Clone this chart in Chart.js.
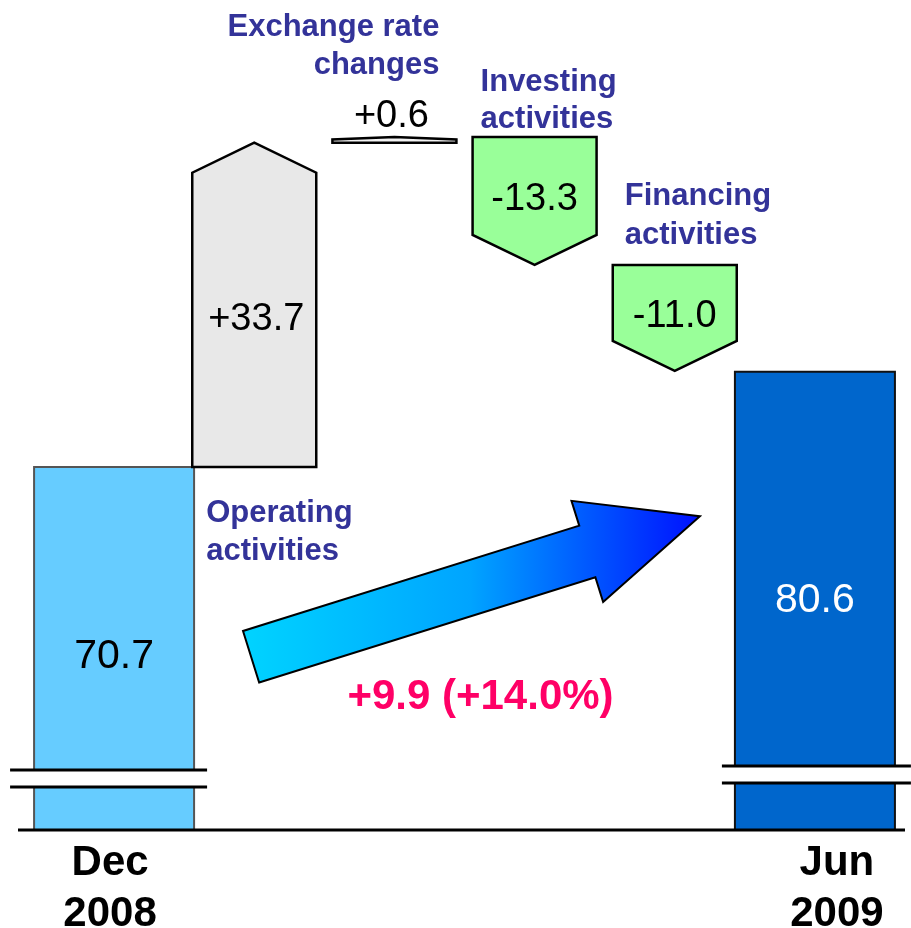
<!DOCTYPE html>
<html>
<head>
<meta charset="utf-8">
<script src="https://cdn.jsdelivr.net/npm/chart.js@4.4.0/dist/chart.umd.min.js"></script>
<style>
body{margin:0;background:#fff}
</style>
</head>
<body>
<canvas id="myChart" width="911" height="928"></canvas>
<script>
// values
var categories=[['Dec','2008'],['Operating','activities'],['Exchange rate','changes'],['Investing','activities'],['Financing','activities'],['Jun','2009']]
var startValue=70.7
var endValue=80.6
var changes=[33.7,0.6,-13.3,-11.0]
var changeLabels=['+33.7','+0.6','-13.3','-11.0']
var totalLabels=['70.7','80.6']
var growthLabel='+9.9 (+14.0%)'

// broken axis: bars start from here
var axisMin=33
var axisMax=118.5

var totals=[[axisMin,startValue],null,null,null,null,[axisMin,endValue]]
var steps=[null]
var running=startValue
changes.forEach(function(c){
    steps.push([running,running+c])
    running+=c
})
steps.push(null)

var FONT='"Liberation Sans", Arial, sans-serif'
var NAVY='#333399'

function poly(ctx,pts,fill,stroke,lw){
    ctx.beginPath()
    ctx.moveTo(pts[0][0],pts[0][1])
    for(var i=1;i<pts.length;i++) ctx.lineTo(pts[i][0],pts[i][1])
    ctx.closePath()
    ctx.fillStyle=fill
    ctx.fill()
    ctx.lineWidth=lw
    ctx.strokeStyle=stroke
    ctx.lineJoin='miter'
    ctx.stroke()
}

var waterfall={
    id:'waterfall',
    afterDatasetsDraw:function(chart){
        var ctx=chart.ctx
        var area=chart.chartArea
        var ys=chart.scales.y
        var tot=chart.getDatasetMeta(0).data
        var stp=chart.getDatasetMeta(1).data
        ctx.save()

        // outline of the total bars
        ;[[0,'#555'],[5,'#111']].forEach(function(o){
            var el=tot[o[0]]
            var l=el.x-el.width/2, r=el.x+el.width/2
            var top=Math.min(el.y,el.base)
            ctx.strokeStyle=o[1]
            ctx.lineWidth=2
            ctx.beginPath()
            ctx.moveTo(l,area.bottom);ctx.lineTo(l,top);ctx.lineTo(r,top);ctx.lineTo(r,area.bottom)
            ctx.stroke()
        })

        // axis break marks on the two total bars
        var breaks=[[0,-60,-43,24,13],[5,-64,-47,13,16]]
        breaks.forEach(function(b){
            var el=tot[b[0]]
            var l=el.x-el.width/2-b[3], r=el.x+el.width/2+b[4]
            var y1=area.bottom+b[1], y2=area.bottom+b[2]
            ctx.fillStyle='#fff'
            ctx.fillRect(l,y1,r-l,y2-y1)
            ctx.strokeStyle='#000'
            ctx.lineWidth=3
            ctx.beginPath()
            ctx.moveTo(l,y1);ctx.lineTo(r,y1)
            ctx.moveTo(l,y2);ctx.lineTo(r,y2)
            ctx.stroke()
        })

        // base line
        ctx.beginPath()
        ctx.moveTo(area.left-26,area.bottom)
        ctx.lineTo(area.right+20,area.bottom)
        ctx.lineWidth=3
        ctx.strokeStyle='#000'
        ctx.stroke()

        // total values
        ctx.textAlign='center'
        ctx.textBaseline='middle'
        ctx.font='41px '+FONT
        ctx.fillStyle='#000'
        ctx.fillText(totalLabels[0],tot[0].x,(tot[0].y+tot[0].base)/2+8)
        ctx.fillStyle='#fff'
        ctx.fillText(totalLabels[1],tot[5].x,(tot[5].y+tot[5].base)/2)

        // category labels under the totals
        ctx.font='bold 42px '+FONT
        ctx.fillStyle='#000'
        var catOff=[-4,22]
        ;[0,5].forEach(function(idx,k){
            categories[idx].forEach(function(line,j){
                ctx.fillText(line,tot[idx].x+catOff[k],area.bottom+33+j*51)
            })
        })

        // step arrows
        var fills=['#e8e8e8','#f2f2f2','#99ff99','#99ff99']
        var lab=[
            {align:'left',dx:'l',ox:14,oy:'bottom',y:[46,84]},
            {align:'right',dx:'r',ox:-17,oy:'top',y:[-109,-71]},
            {align:'left',dx:'l',ox:8,oy:'top',y:[-54,-17]},
            {align:'left',dx:'l',ox:12,oy:'top',y:[-69,-30]}
        ]
        changes.forEach(function(c,i){
            var el=stp[i+1]
            var l=el.x-el.width/2, r=el.x+el.width/2
            var top=Math.min(el.y,el.base), bottom=Math.max(el.y,el.base)
            var head=Math.min(30,(bottom-top)*0.45)
            var pts
            if(c>0){
                pts=[[l,bottom],[l,top+head],[el.x,top],[r,top+head],[r,bottom]]
            }else{
                pts=[[l,top],[r,top],[r,bottom-head],[el.x,bottom],[l,bottom-head]]
            }
            poly(ctx,pts,fills[i],'#000',2.5)

            ctx.fillStyle='#000'
            ctx.font='38px '+FONT
            ctx.textAlign='center'
            if(bottom-top<20){
                ctx.fillText(changeLabels[i],el.x-3,top-20)
            }else if(c>0){
                ctx.fillText(changeLabels[i],el.x+2,(top+head+bottom)/2)
            }else{
                ctx.fillText(changeLabels[i],el.x,(top+bottom)/2-1)
            }

            var p=lab[i]
            var tx=(p.dx=='l'?l:r)+p.ox
            var ty=p.oy=='top'?top:bottom
            ctx.font='bold 31px '+FONT
            ctx.fillStyle=NAVY
            ctx.textAlign=p.align
            categories[i+1].forEach(function(line,j){
                ctx.fillText(line,tx,ty+p.y[j])
            })
        })

        // growth arrow from Dec to Jun
        var t={x:tot[0].x+tot[0].width/2+57,y:ys.getPixelForValue(51)}
        var h={x:tot[5].x-tot[5].width/2-35,y:ys.getPixelForValue(65.6)}
        var dx=h.x-t.x, dy=h.y-t.y, len=Math.sqrt(dx*dx+dy*dy)
        var ux=dx/len, uy=dy/len, nx=-uy, ny=ux
        var sw=27, hw=53, hl=118
        var nkx=h.x-ux*hl, nky=h.y-uy*hl
        var arrow=[
            [t.x+nx*sw,t.y+ny*sw],[nkx+nx*sw,nky+ny*sw],[nkx+nx*hw,nky+ny*hw],
            [h.x,h.y],
            [nkx-nx*hw,nky-ny*hw],[nkx-nx*sw,nky-ny*sw],[t.x-nx*sw,t.y-ny*sw]
        ]
        var g=ctx.createLinearGradient(t.x-10,0,h.x,0)
        g.addColorStop(0,'#00d4ff')
        g.addColorStop(0.5,'#00a4ff')
        g.addColorStop(1,'#0010ff')
        poly(ctx,arrow,g,'#000',2)

        ctx.font='bold 42px '+FONT
        ctx.fillStyle='#ff0066'
        ctx.textAlign='center'
        ctx.fillText(growthLabel,(tot[0].x+tot[5].x)/2+16,ys.getPixelForValue(46.8))

        ctx.restore()
    }
}

var myChart=document.getElementById('myChart').getContext('2d')
var chart=new Chart(myChart,{
    type:'bar',
    data:{
        labels:categories,
        datasets:[
            {
                label:'Cash',
                data:totals,
                backgroundColor:['#66ccff','','','','','#0066cc'],
                borderWidth:0,
                barThickness:160,
                grouped:false,
                clip:false
            },
            {
                label:'Change',
                data:steps,
                backgroundColor:'rgba(0,0,0,0)',
                borderWidth:0,
                barThickness:124,
                grouped:false,
                clip:false
            }
        ]
    },
    options:{
        responsive:false,
        animation:false,
        layout:{padding:{left:44,right:26,top:7,bottom:98}},
        plugins:{legend:{display:false},tooltip:{enabled:false}},
        scales:{
            x:{display:false},
            y:{display:false,min:axisMin,max:axisMax}
        }
    },
    plugins:[waterfall]
})
</script>
</body>
</html>
